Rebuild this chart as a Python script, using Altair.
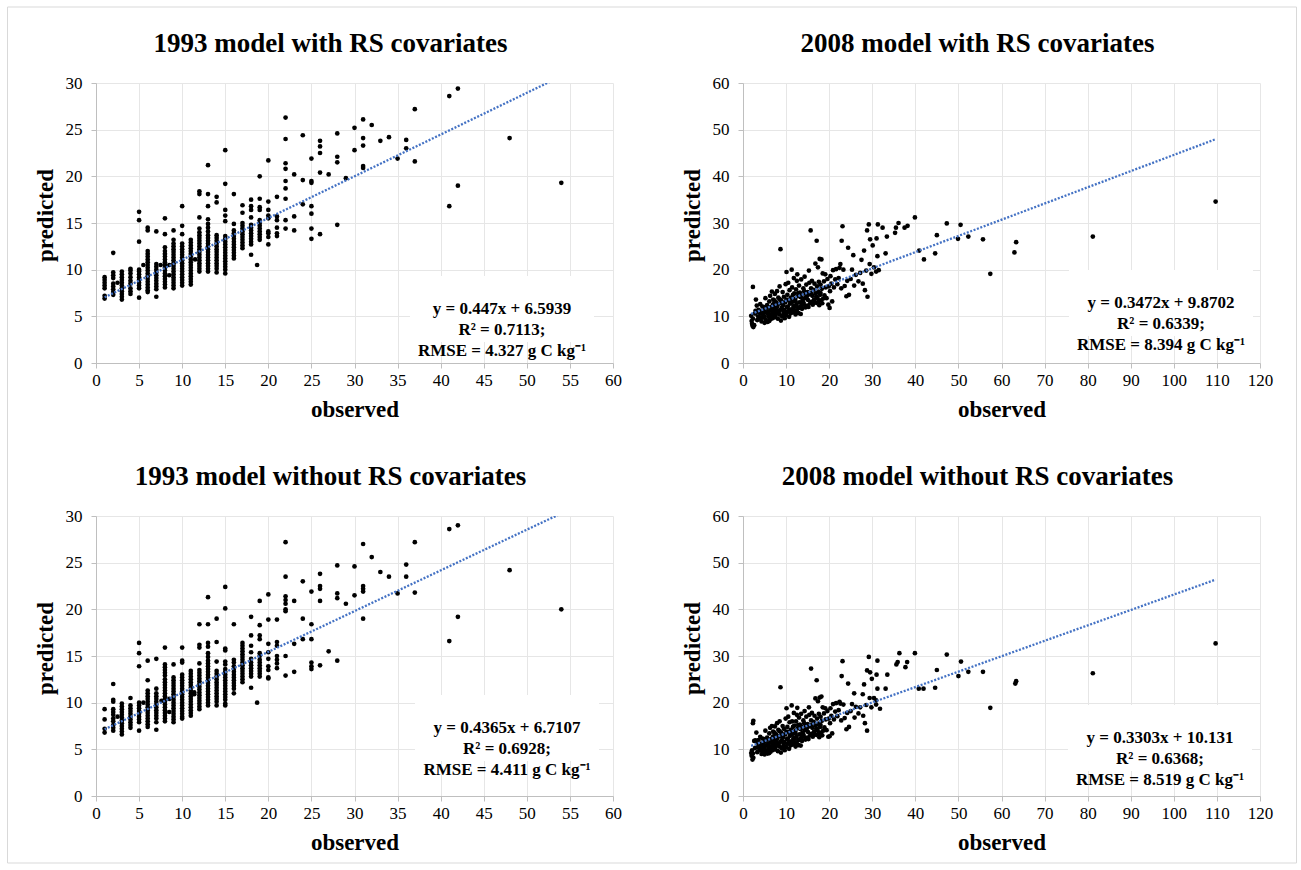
import altair as alt
import pandas as pd

SERIF = "Liberation Serif"
PLOT_W, PLOT_H = 517, 280

# ---- 1993 validation points: predicted values listed per observed value ----
pred_by_obs_1993_rs = {
    1: [9.2, 8.9, 8.6, 8.3, 8.0, 7.2, 6.9],
    2: [11.8, 9.7, 9.4, 9.1, 8.5, 8.2, 7.9, 7.6, 7.3],
    2.5: [8.6],
    3: [9.8, 9.5, 9.2, 8.9, 8.6, 8.3, 8.0, 7.7, 7.4, 7.1, 6.8],
    4: [10.1, 9.9, 9.6, 9.2, 8.8, 8.5, 8.0, 7.7, 7.4],
    5: [16.2, 15.3, 13.0, 10.0, 9.8, 9.5, 9.2, 8.9, 8.6, 8.3, 8.0, 7.0],
    5.5: [10.5],
    6: [14.5, 14.2, 12.0, 11.7, 11.4, 11.1, 10.8, 10.5, 10.2, 9.9, 9.6, 9.3, 9.0, 8.7, 8.4, 8.1, 7.8, 7.6],
    7: [14.1, 10.6, 10.3, 10.0, 9.7, 9.4, 9.1, 8.8, 8.5, 8.2, 7.9, 7.1],
    7.5: [10.5],
    8: [15.5, 13.8, 12.4, 12.0, 11.7, 11.4, 11.1, 10.8, 10.5, 10.2, 9.9, 9.6, 9.3, 9.0, 8.7, 8.4, 8.1],
    8.5: [10.5, 9.4],
    9: [14.2, 13.2, 12.8, 12.5, 12.2, 11.9, 11.6, 11.3, 11.0, 10.7, 10.4, 10.1, 9.8, 9.5, 9.2, 8.9, 8.6, 8.3, 8.0],
    10: [16.8, 14.7, 13.8, 12.8, 12.5, 12.2, 11.9, 11.6, 11.3, 11.0, 10.7, 10.4, 10.1, 9.8, 9.5, 9.2, 8.9, 8.6, 8.3],
    11: [13.2, 12.9, 12.6, 12.3, 12.0, 11.7, 11.4, 11.1, 10.8, 10.5, 10.2, 9.9, 9.6, 9.3, 9.0, 8.7, 8.4],
    11.5: [11.1],
    12: [18.4, 18.1, 15.6, 14.4, 14.0, 13.7, 13.4, 13.1, 12.8, 12.5, 12.2, 11.9, 11.6, 11.3, 11.0, 10.7, 10.4, 10.1, 9.8],
    13: [21.2, 18.1, 16.8, 15.4, 14.9, 14.5, 14.1, 13.7, 13.4, 13.1, 12.8, 12.5, 12.2, 11.9, 11.6, 11.3, 11.0, 10.7, 10.4, 10.1, 9.8],
    14: [17.8, 17.2, 13.7, 13.4, 13.1, 12.8, 12.5, 12.2, 11.9, 11.6, 11.3, 11.0, 10.7, 10.4, 10.1, 9.7],
    15: [22.8, 19.2, 16.4, 15.8, 15.2, 13.6, 13.3, 13.0, 12.7, 12.4, 12.1, 11.8, 11.5, 11.2, 10.9, 10.6, 10.3, 10.0, 9.6],
    16: [18.1, 14.9, 14.2, 13.9, 13.6, 13.3, 13.0, 12.7, 12.4, 12.1, 11.8, 11.5, 11.2],
    17: [16.9, 16.1, 15.0, 14.7, 14.4, 14.1, 13.8, 13.5, 13.2, 12.9, 12.6, 12.3],
    18: [17.5, 16.8, 16.4, 15.6, 14.8, 14.5, 14.2, 13.9, 13.6, 13.3, 13.0, 12.7, 11.6],
    18.7: [10.5],
    19: [20.0, 17.6, 16.7, 16.4, 15.3, 15.0, 14.7, 14.4, 14.1, 13.8, 13.5, 13.2],
    20: [21.7, 17.3, 16.4, 15.8, 15.5, 14.1, 13.9, 13.5, 12.7],
    21: [17.8, 15.7, 15.3, 14.5, 13.9, 13.6],
    22: [26.3, 24.0, 21.4, 20.8, 19.5, 18.7, 17.6, 15.3, 14.4],
    23: [20.2, 15.7, 14.2],
    24: [24.4, 19.6, 17.0],
    25: [21.9, 19.5, 19.3, 16.8, 16.0, 14.4, 13.3],
    26: [23.8, 23.2, 22.5, 20.4, 13.8],
    27: [20.2],
    28: [24.6, 22.1, 21.5, 14.8],
    29: [19.8],
    30: [25.2, 22.8],
    31: [26.1, 24.1, 23.3, 21.1, 20.9],
    32: [25.5],
    33: [23.8],
    34: [24.2],
    35: [21.9],
    36: [23.9, 23.0],
    37: [27.2, 21.6],
    41: [28.6, 16.8],
    42: [29.4, 19.0],
    48: [24.1],
    54: [19.3],
}

pred_by_obs_1993_nors = {
    1: [9.3, 8.2, 7.2, 6.8],
    2: [12.0, 10.3, 10.1, 9.3, 9.0, 8.7, 8.3, 8.0, 7.6, 7.3, 7.0],
    2.5: [8.5],
    3: [9.9, 9.6, 9.3, 9.0, 8.7, 8.4, 8.1, 7.8, 7.5, 7.2, 6.9, 6.6],
    4: [10.5, 9.7, 9.4, 9.1, 8.8, 8.5, 8.2, 7.9, 7.6, 7.3],
    5: [16.4, 15.3, 13.9, 10.0, 9.7, 9.4, 9.1, 8.8, 8.5, 8.2, 7.9, 7.0],
    5.5: [10.0],
    6: [14.5, 12.4, 11.3, 11.0, 10.7, 10.4, 10.1, 9.8, 9.5, 9.2, 8.9, 8.6, 8.3, 8.0, 7.7, 7.4],
    7: [14.7, 11.5, 11.0, 10.7, 10.4, 10.1, 9.8, 9.5, 9.2, 8.9, 8.6, 8.3, 7.9, 7.1],
    7.6: [10.2],
    8: [15.9, 14.1, 13.8, 13.5, 13.2, 12.9, 12.5, 12.2, 11.9, 11.6, 11.3, 11.0, 10.7, 10.4, 10.1, 9.8, 9.5, 9.2, 8.9, 8.6, 8.3, 8.0],
    8.5: [9.0, 10.4],
    9: [14.1, 12.7, 12.4, 12.1, 11.8, 11.5, 11.2, 10.9, 10.6, 10.3, 10.0, 9.7, 9.4, 9.1, 8.8, 8.5, 8.2, 7.9],
    10: [15.9, 14.5, 14.3, 13.0, 12.7, 12.4, 12.1, 11.8, 11.5, 11.2, 10.9, 10.6, 10.3, 10.0, 9.7, 9.4, 9.1, 8.8, 8.5, 8.3],
    11: [13.4, 13.1, 12.8, 12.5, 12.2, 11.9, 11.6, 11.3, 11.0, 10.7, 10.4, 10.1, 9.8, 9.5, 9.2, 8.9, 8.6],
    11.4: [11.1, 10.9],
    12: [18.4, 16.2, 15.9, 14.2, 13.5, 13.2, 12.9, 12.6, 12.3, 12.0, 11.7, 11.4, 11.1, 10.8, 10.5, 10.2, 9.9, 9.6, 9.3],
    13: [21.3, 18.4, 16.4, 16.0, 15.3, 14.9, 14.5, 14.2, 13.9, 13.6, 13.3, 13.0, 12.7, 12.4, 12.1, 11.8, 11.5, 11.2, 10.9, 10.6, 10.3, 10.0, 9.7],
    14: [19.0, 16.5, 14.4, 13.4, 13.1, 12.8, 12.5, 12.2, 11.9, 11.6, 11.3, 11.0, 10.7, 10.4, 10.1, 9.7],
    15: [22.4, 20.1, 15.8, 15.6, 14.4, 14.1, 13.6, 13.3, 13.0, 12.7, 12.4, 12.1, 11.8, 11.5, 11.2, 10.9, 10.6, 10.3, 9.9, 9.7],
    16: [18.4, 14.6, 14.3, 13.9, 13.6, 13.3, 13.0, 12.7, 12.4, 12.1, 11.8, 11.5, 11.0],
    17: [16.4, 16.1, 15.8, 15.5, 15.2, 14.9, 14.6, 14.3, 14.0, 13.7, 13.4, 13.1, 12.8, 12.5, 12.2],
    18: [19.2, 17.2, 16.1, 15.4, 14.7, 14.3, 14.0, 13.7, 13.4, 13.1, 12.8, 11.6],
    18.7: [10.0],
    19: [20.9, 18.3, 17.2, 16.8, 15.3, 15.0, 14.6, 14.3, 14.0, 13.7, 13.4, 13.1, 12.8],
    20: [21.6, 18.9, 16.3, 15.4, 14.7, 13.9, 13.5, 12.7, 12.6],
    21: [18.9, 16.5, 16.1, 15.0, 14.6, 14.2, 13.7],
    22: [27.2, 23.5, 21.4, 21.0, 20.6, 20.0, 19.8, 15.0, 12.9],
    23: [20.9, 16.3, 13.3],
    24: [23.0, 19.0, 16.8],
    25: [21.9, 18.4, 16.8, 14.3, 13.9, 13.6],
    26: [23.8, 22.5, 22.2, 20.9, 14.0],
    27: [15.5],
    28: [24.7, 21.7, 21.2, 14.5],
    29: [20.6],
    30: [24.6, 21.5],
    31: [27.0, 22.5, 22.2, 21.9, 19.0],
    32: [25.6],
    33: [24.0],
    34: [23.5],
    35: [21.7],
    36: [24.8, 23.5],
    37: [27.2, 21.8],
    41: [28.6, 16.6],
    42: [29.0, 19.2],
    48: [24.2],
    54: [20.0],
}

# ---- 2008 validation points: (observed, predicted) ----
points_2008_rs = [
    (1.9, 10.1), (2.0, 9.0), (2.1, 8.4), (2.2, 8.0), (2.4, 7.7), (2.6, 8.1), (2.3, 9.5), (2.8, 10.6),
    (2.3, 16.3), (2.9, 11.2), (3.0, 13.6), (3.2, 12.3), (3.3, 9.2), (3.5, 10.0), (3.6, 11.4), (3.8, 9.5),
    (4.0, 12.6), (4.1, 10.6), (4.3, 8.9), (4.4, 11.1), (4.6, 9.7), (4.8, 10.2), (4.9, 12.0), (5.0, 8.6),
    (5.1, 11.5), (5.2, 13.9), (5.3, 9.2), (5.5, 10.8), (5.6, 12.4), (5.7, 8.8), (5.9, 9.9), (6.0, 11.0),
    (6.1, 13.2), (6.2, 10.3), (6.3, 14.4), (6.4, 9.4), (6.5, 12.0), (6.6, 11.3), (6.7, 15.3), (6.8, 10.6),
    (6.9, 9.6), (7.0, 13.6), (7.1, 12.6), (7.2, 11.9), (7.3, 10.2), (7.4, 14.8), (7.5, 9.8), (7.6, 11.5),
    (7.7, 13.0), (7.8, 10.9), (7.9, 15.4), (8.0, 12.3), (8.1, 9.5), (8.2, 14.0), (8.3, 11.1), (8.4, 10.4),
    (8.5, 16.4), (8.6, 12.8), (8.7, 24.4), (8.8, 9.1), (8.9, 13.4), (9.0, 11.8), (9.1, 10.0), (9.2, 15.2),
    (9.3, 12.4), (9.4, 10.7), (9.5, 14.2), (9.6, 11.4), (9.7, 9.6), (9.8, 13.0), (9.9, 16.9), (10.0, 10.3),
    (10.1, 19.5), (10.2, 12.0), (10.3, 14.6), (10.4, 11.0), (10.5, 17.2), (10.6, 13.5), (10.7, 9.9), (10.8, 15.6),
    (10.9, 12.7), (11.0, 10.6), (11.1, 14.0), (11.2, 11.5), (11.3, 20.0), (11.4, 16.2), (11.5, 13.1), (11.6, 10.9),
    (11.7, 12.2), (11.8, 18.2), (11.9, 14.9), (12.0, 11.3), (12.1, 13.7), (12.2, 10.4), (12.3, 15.8), (12.4, 12.5),
    (12.5, 17.6), (12.6, 19.0), (12.7, 14.3), (12.8, 11.8), (12.9, 10.7), (13.0, 16.6), (13.1, 13.0), (13.2, 15.1),
    (13.3, 12.1), (13.4, 10.5), (13.5, 17.9), (13.6, 14.6), (13.7, 11.6), (13.8, 13.4), (14.0, 16.0), (14.1, 12.6),
    (14.2, 15.4), (14.3, 18.5), (14.4, 13.9), (14.5, 11.9), (14.7, 16.8), (14.8, 14.2), (14.9, 12.3), (15.0, 15.2),
    (15.1, 13.5), (15.3, 19.8), (15.4, 17.2), (15.5, 14.7), (15.6, 12.8), (15.7, 28.4), (15.8, 16.0), (15.9, 13.1),
    (16.0, 17.6), (16.1, 14.4), (16.2, 12.5), (16.4, 15.7), (16.5, 13.6), (16.6, 17.0), (16.8, 21.3), (16.9, 14.9),
    (17.0, 12.9), (17.1, 26.2), (17.2, 16.4), (17.3, 13.9), (17.4, 20.5), (17.5, 15.3), (17.6, 17.4), (17.7, 12.4),
    (17.8, 22.3), (17.9, 14.6), (18.0, 16.8), (18.1, 13.4), (18.2, 22.2), (18.3, 15.9), (18.5, 19.2), (18.6, 13.8),
    (18.8, 17.5), (18.9, 14.5), (19.1, 19.0), (19.2, 16.2), (19.4, 13.9), (19.6, 18.0), (19.8, 12.5), (19.9, 16.4),
    (3.4, 11.0), (3.9, 10.8), (4.2, 9.8), (4.5, 12.1), (4.7, 10.9), (5.0, 9.9), (5.4, 11.8), (5.8, 10.5),
    (6.1, 9.0), (6.3, 11.7), (6.6, 10.0), (6.9, 12.4), (7.1, 11.1), (7.3, 13.4), (7.6, 10.5), (7.9, 12.0),
    (8.2, 10.8), (8.5, 13.7), (8.7, 11.4), (9.0, 10.1), (9.2, 12.9), (9.5, 11.1), (9.8, 10.4), (10.1, 13.6),
    (10.4, 12.1), (10.7, 11.4), (11.0, 13.4), (11.3, 10.8), (11.6, 14.6), (11.9, 12.0), (12.2, 13.2), (12.5, 11.1),
    (12.8, 15.0), (13.1, 11.8), (13.4, 14.1), (13.7, 12.4), (14.0, 13.0), (14.6, 14.8), (15.2, 12.0), (15.9, 15.0),
    (16.3, 13.0), (17.0, 14.2), (17.5, 13.2), (18.0, 15.0), (18.4, 12.8),
    (20.1, 11.8), (20.2, 15.4), (20.3, 18.6), (20.5, 17.0), (20.7, 13.2), (20.9, 19.9), (21.1, 16.2), (21.4, 17.9),
    (21.6, 20.1), (21.9, 16.9), (22.2, 18.2), (22.4, 20.4), (22.6, 21.2), (22.8, 16.0), (22.9, 26.2), (23.1, 29.3),
    (23.3, 20.0), (23.6, 16.5), (24.0, 14.3), (24.2, 17.6), (24.4, 24.7), (24.6, 14.6), (25.0, 18.0), (25.3, 20.0),
    (25.6, 23.1), (25.8, 16.6), (26.2, 18.9), (26.8, 17.5), (27.2, 19.3), (27.5, 22.1), (27.8, 17.0), (28.1, 24.1),
    (28.3, 15.6), (28.6, 19.8), (28.9, 14.2), (28.8, 28.4), (29.2, 29.7), (29.4, 21.2), (29.5, 26.5), (29.8, 19.1),
    (30.1, 25.2), (30.4, 20.5), (30.9, 19.6), (31.0, 26.7), (31.2, 22.9), (31.3, 29.7), (31.5, 19.9), (32.4, 29.0),
    (33.1, 23.5), (33.4, 27.1), (35.3, 27.9), (35.5, 29.0), (36.1, 30.0), (37.5, 29.0), (38.2, 29.4), (39.9, 31.2),
    (40.9, 24.1), (42.0, 22.2), (44.6, 23.5), (45.0, 27.4), (47.3, 29.9), (49.9, 26.6), (50.5, 29.6), (52.3, 27.1),
    (55.7, 26.5), (57.4, 19.1), (63.0, 23.7), (63.4, 25.9), (81.2, 27.1), (109.7, 34.6),
]

points_2008_nors = [
    (1.9, 9.2), (2.0, 8.6), (2.1, 9.8), (2.2, 7.8), (2.4, 8.2), (2.3, 9.1), (2.3, 15.6), (2.4, 16.1),
    (2.6, 11.8), (2.8, 10.3), (2.9, 11.9), (3.1, 13.6), (3.3, 9.4), (3.5, 10.4), (3.6, 12.0), (3.8, 9.8),
    (4.0, 12.7), (4.1, 10.9), (4.3, 9.0), (4.4, 11.3), (4.6, 9.5), (4.8, 10.5), (4.9, 12.2), (5.0, 8.9),
    (5.1, 11.7), (5.2, 14.0), (5.3, 9.6), (5.5, 10.9), (5.6, 12.5), (5.7, 9.1), (5.9, 10.1), (6.0, 11.2),
    (6.1, 13.4), (6.2, 10.5), (6.3, 14.6), (6.4, 9.5), (6.5, 12.2), (6.6, 11.5), (6.7, 15.0), (6.8, 10.8),
    (6.9, 9.8), (7.0, 13.8), (7.1, 12.8), (7.2, 12.0), (7.3, 10.4), (7.4, 14.9), (7.5, 10.0), (7.6, 11.7),
    (7.7, 13.2), (7.8, 11.0), (7.9, 15.6), (8.0, 12.5), (8.1, 9.6), (8.2, 14.2), (8.3, 11.3), (8.4, 10.6),
    (8.5, 16.0), (8.6, 12.9), (8.7, 23.3), (8.8, 9.3), (8.9, 13.6), (9.0, 12.0), (9.1, 10.2), (9.2, 15.0),
    (9.3, 12.6), (9.4, 10.9), (9.5, 14.4), (9.6, 11.6), (9.7, 9.8), (9.8, 13.2), (9.9, 16.6), (10.0, 10.5),
    (10.1, 18.8), (10.2, 12.2), (10.3, 14.8), (10.4, 11.2), (10.5, 17.0), (10.6, 13.7), (10.7, 10.1), (10.8, 15.8),
    (10.9, 12.9), (11.0, 10.8), (11.1, 14.2), (11.2, 11.7), (11.3, 19.4), (11.4, 16.0), (11.5, 13.3), (11.6, 11.1),
    (11.7, 12.4), (11.8, 17.8), (11.9, 15.1), (12.0, 11.5), (12.1, 13.9), (12.2, 10.6), (12.3, 16.0), (12.4, 12.7),
    (12.5, 17.4), (12.6, 18.9), (12.7, 14.5), (12.8, 12.0), (12.9, 10.9), (13.0, 16.8), (13.1, 13.2), (13.2, 15.3),
    (13.3, 12.3), (13.4, 10.8), (13.5, 17.6), (13.6, 14.8), (13.7, 11.8), (13.8, 13.6), (14.0, 16.2), (14.1, 12.8),
    (14.2, 15.6), (14.3, 18.2), (14.4, 14.1), (14.5, 12.1), (14.7, 17.0), (14.8, 14.4), (14.9, 12.5), (15.0, 15.4),
    (15.1, 13.7), (15.3, 19.0), (15.4, 17.4), (15.5, 14.9), (15.6, 13.0), (15.8, 27.3), (15.8, 16.2), (15.9, 13.3),
    (16.0, 17.8), (16.1, 14.6), (16.2, 12.7), (16.4, 15.9), (16.5, 13.8), (16.6, 17.2), (16.8, 20.9), (16.9, 15.1),
    (17.0, 13.1), (17.1, 24.8), (17.2, 16.6), (17.3, 14.1), (17.4, 20.3), (17.5, 15.5), (17.6, 17.6), (17.7, 12.6),
    (17.8, 21.1), (17.9, 14.8), (18.0, 17.0), (18.1, 13.6), (18.2, 21.3), (18.3, 16.1), (18.5, 19.0), (18.6, 14.0),
    (18.8, 17.7), (18.9, 14.7), (19.1, 18.8), (19.2, 16.4), (19.4, 14.1), (19.6, 18.2), (19.8, 12.7), (19.9, 16.6),
    (3.4, 11.2), (3.9, 10.6), (4.2, 10.0), (4.5, 12.3), (4.7, 11.0), (5.0, 10.1), (5.4, 12.0), (5.8, 10.7),
    (6.1, 9.2), (6.3, 11.9), (6.6, 10.2), (6.9, 12.6), (7.1, 11.3), (7.3, 13.6), (7.6, 10.7), (7.9, 12.2),
    (8.2, 11.0), (8.5, 13.9), (8.7, 11.6), (9.0, 10.3), (9.2, 13.1), (9.5, 11.3), (9.8, 10.6), (10.1, 13.8),
    (10.4, 12.3), (10.7, 11.6), (11.0, 13.6), (11.3, 11.0), (11.6, 14.8), (11.9, 12.2), (12.2, 13.4), (12.5, 11.3),
    (12.8, 15.2), (13.1, 12.0), (13.4, 14.3), (13.7, 12.6), (14.0, 13.2), (14.6, 15.0), (15.2, 12.2), (15.9, 15.2),
    (16.3, 13.2), (17.0, 14.4), (17.5, 13.4), (18.0, 15.2), (18.4, 13.0),
    (20.1, 12.8), (20.2, 15.6), (20.3, 18.8), (20.5, 17.2), (20.7, 13.4), (20.9, 19.7), (21.1, 16.4), (21.4, 18.1),
    (21.6, 19.9), (21.9, 17.1), (22.2, 18.4), (22.4, 20.2), (22.6, 19.8), (22.8, 16.2), (22.9, 25.7), (23.1, 28.9),
    (23.3, 19.6), (23.6, 16.7), (24.0, 14.3), (24.2, 17.8), (24.4, 24.1), (24.6, 14.8), (25.0, 18.2), (25.3, 19.7),
    (25.8, 22.0), (25.9, 16.8), (26.2, 19.1), (26.8, 17.7), (27.2, 19.0), (27.8, 21.8), (27.9, 17.2), (28.1, 23.9),
    (28.3, 15.6), (28.6, 19.5), (28.8, 14.0), (28.8, 26.9), (29.2, 29.8), (29.4, 21.0), (29.5, 26.5), (29.8, 19.0),
    (29.9, 25.1), (30.4, 21.0), (30.9, 20.5), (30.9, 19.6), (31.0, 26.0), (31.2, 29.0), (31.2, 23.0), (31.8, 18.7),
    (33.1, 23.0), (33.5, 26.0), (35.6, 28.2), (35.9, 28.7), (36.3, 30.6), (37.7, 27.6), (38.1, 28.7), (39.9, 30.6),
    (40.8, 23.0), (41.9, 23.0), (44.6, 23.2), (45.0, 27.0), (47.3, 30.3), (50.0, 25.7), (50.6, 28.8), (52.3, 26.6),
    (55.7, 26.6), (57.4, 18.9), (63.2, 24.1), (63.4, 24.6), (81.2, 26.3), (109.7, 32.7),
]

# Regression statistics reported for each model
titles = [
    "1993 model with RS covariates",
    "2008 model with RS covariates",
    "1993 model without RS covariates",
    "2008 model without RS covariates",
]
slopes = [0.447, 0.3472, 0.4365, 0.3303]
intercepts = [6.5939, 9.8702, 6.7107, 10.131]
slope_text = ["0.447", "0.3472", "0.4365", "0.3303"]
intercept_text = ["6.5939", "9.8702", "6.7107", "10.131"]
r2_text = ["0.7113", "0.6339", "0.6928", "0.6368"]
rmse_text = ["4.327", "8.394", "4.411", "8.519"]


def grouped_frame(pred_by_obs):
    rows = [(obs, p) for obs, preds in pred_by_obs.items() for p in preds]
    return pd.DataFrame(rows, columns=["observed", "predicted"])


def pairs_frame(pairs):
    return pd.DataFrame(pairs, columns=["observed", "predicted"])


def panel(df, i, x_max, x_step, y_max, y_step, note_x, note_y, frame=False):
    x_enc = alt.X(
        "observed:Q",
        scale=alt.Scale(domain=[0, x_max], nice=False),
        axis=alt.Axis(values=list(range(0, x_max + 1, x_step)), title="observed"),
    )
    y_enc = alt.Y(
        "predicted:Q",
        scale=alt.Scale(domain=[0, y_max], nice=False),
        axis=alt.Axis(values=list(range(0, y_max + 1, y_step)), title="predicted", titleY=132),
    )

    # linear trend line over the observed range (clipped at the plot edge)
    x0, x1 = df["observed"].min(), df["observed"].max()
    trend_df = pd.DataFrame({
        "observed": [x0, x1],
        "predicted": [slopes[i] * x0 + intercepts[i], slopes[i] * x1 + intercepts[i]],
    })

    note = (
        f"y = {slope_text[i]}x + {intercept_text[i]}\n"
        f"R² = {r2_text[i]};\n"
        f"RMSE = {rmse_text[i]} g C kg⁻¹"
    )
    one = pd.DataFrame({"k": [0]})

    points = alt.Chart(df).mark_circle(size=22, color="black", opacity=1).encode(x=x_enc, y=y_enc)
    trend = alt.Chart(trend_df).mark_line(
        clip=True, color="#4472C4", strokeWidth=2.3, strokeDash=[2, 1.6]
    ).encode(x=x_enc, y=y_enc)
    box = alt.Chart(one).mark_rect(fill="white").encode(
        x=alt.value(note_x - 92), x2=alt.value(min(note_x + 92, PLOT_W - 1)),
        y=alt.value(note_y - 33), y2=alt.value(note_y + 33),
    )
    label = alt.Chart(one).mark_text(
        font=SERIF, fontSize=17, fontWeight="bold", color="black",
        align="center", baseline="middle", lineBreak="\n", lineHeight=21,
    ).encode(x=alt.value(note_x), y=alt.value(note_y), text=alt.value(note))
    # panel heading, centred over the panel's outer box
    heading = alt.Chart(one).mark_text(
        font=SERIF, fontSize=27, fontWeight="bold", color="black",
        align="center", baseline="middle",
    ).encode(x=alt.value(PLOT_W / 2 - 24), y=alt.value(-39), text=alt.value(titles[i]))

    layers = [box, points, trend, label, heading]
    if frame:
        # thin outline around the whole figure
        outline = alt.Chart(one).mark_rect(filled=False, stroke="#d9d9d9", strokeWidth=1).encode(
            x=alt.value(-88.5), x2=alt.value(1200.5), y=alt.value(-76), y2=alt.value(780),
        )
        layers = [outline] + layers

    return alt.layer(*layers).properties(width=PLOT_W, height=PLOT_H)


p1 = panel(grouped_frame(pred_by_obs_1993_rs), 0, 60, 5, 30, 5, 406, 226, frame=True)
p2 = panel(pairs_frame(points_2008_rs), 1, 120, 10, 60, 10, 418, 220)
p3 = panel(grouped_frame(pred_by_obs_1993_nors), 2, 60, 5, 30, 5, 411, 212)
p4 = panel(pairs_frame(points_2008_nors), 3, 120, 10, 60, 10, 417, 222)

chart = alt.concat(
    p1, p2, p3, p4, columns=2, spacing={"row": 153, "column": 130}, bounds="flush"
).properties(
    padding={"left": 6, "top": 6, "right": 0, "bottom": 0},
    background="white",
).configure_view(
    stroke="transparent"
).configure_axis(
    labelFont=SERIF, labelFontSize=17, labelColor="black", labelFlush=False,
    titleFont=SERIF, titleFontSize=23, titleFontWeight="bold", titleColor="black",
    domainColor="#bfbfbf", tickColor="#bfbfbf", tickSize=5,
    gridColor="#e6e6e6", labelPadding=4,
).configure_axisY(
    labelPadding=9, titlePadding=8,
).configure_axisX(
    titlePadding=10,
)

chart.save("out.html", embed_options={"renderer": "svg", "actions": False})
